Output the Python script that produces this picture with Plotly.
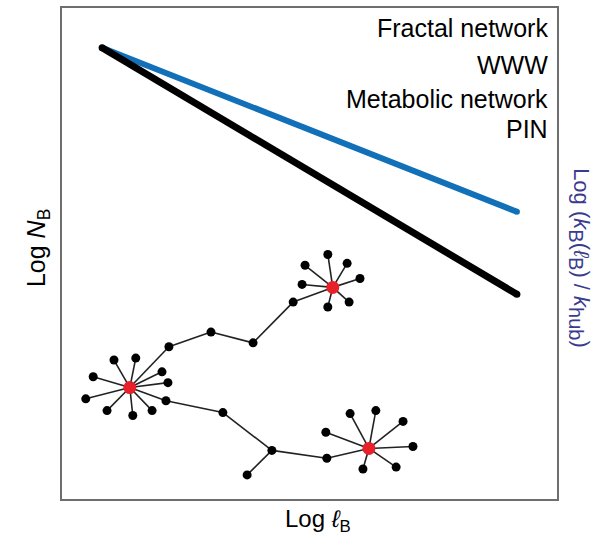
import plotly.graph_objects as go

# Scaling relations (log-log, arbitrary units)
line_x = [0.81, 9.19]
fractal_y = [9.19, 4.17]      # Log N_B for the fractal network
www_y = [9.19, 5.85]          # Log (k_B(l_B)/k_hub) for WWW / metabolic / PIN

# Sketch of a hub-and-spoke fractal network
node_x = [1.37, 1.05, 1.49, 0.63, 0.48, 0.91, 1.43, 1.82, 2.02, 2.14, 2.10, 2.16,
          3.01, 3.86, 4.67,
          5.47, 5.37, 4.91, 5.76, 6.02, 4.85, 5.80, 5.37,
          3.25, 4.24, 3.74, 5.35,
          6.20, 5.82, 6.34, 6.89, 5.33, 7.09, 6.08, 6.75]
node_y = [2.27, 2.83, 2.87, 2.49, 2.04, 1.80, 1.70, 1.80, 2.59, 2.37, 2.00, 3.10,
          3.40, 3.18, 4.01,
          4.31, 4.98, 4.76, 4.80, 4.49, 4.37, 4.01, 3.91,
          1.76, 0.99, 0.49, 0.83,
          1.03, 1.74, 1.80, 1.58, 1.36, 1.07, 0.61, 0.65]
hubs = [0, 15, 27]
edges = ([(0, i) for i in range(1, 12)]
         + [(11, 12), (12, 13), (13, 14), (14, 15)]
         + [(15, i) for i in range(16, 23)]
         + [(10, 23), (23, 24), (24, 25), (24, 26), (26, 27)]
         + [(27, i) for i in range(28, 35)])

legend_labels = ["Fractal network", "WWW", "Metabolic network", "PIN"]

ex, ey = [], []
for a, b in edges:
    ex += [node_x[a], node_x[b], None]
    ey += [node_y[a], node_y[b], None]

leaf_idx = [i for i in range(len(node_x)) if i not in hubs]

fig = go.Figure()
fig.add_trace(go.Scatter(x=ex, y=ey, mode="lines",
                         line=dict(color="#222222", width=1.6), hoverinfo="skip"))
fig.add_trace(go.Scatter(x=[node_x[i] for i in leaf_idx], y=[node_y[i] for i in leaf_idx],
                         mode="markers", marker=dict(color="black", size=9)))
fig.add_trace(go.Scatter(x=[node_x[i] for i in hubs], y=[node_y[i] for i in hubs],
                         mode="markers", marker=dict(color="#e8202a", size=13)))

fig.add_trace(go.Scatter(x=line_x, y=www_y, mode="lines+markers",
                         line=dict(color="#1170b8", width=6),
                         marker=dict(color="#1170b8", size=6)))
fig.add_trace(go.Scatter(x=line_x, y=fractal_y, mode="lines+markers",
                         line=dict(color="black", width=7),
                         marker=dict(color="black", size=7)))

label_font = "Liberation Sans, Arial, sans-serif"
label_y = [0.960, 0.884, 0.815, 0.754]
for txt, yy in zip(legend_labels, label_y):
    fig.add_annotation(text=txt, x=0.986, y=yy, xref="paper", yref="paper",
                       xanchor="right", yanchor="middle", showarrow=False,
                       font=dict(family=label_font, size=25, color="black"))

fig.add_annotation(text="Log <i>N</i><sub>B</sub>", x=-0.0485, y=0.511,
                   xref="paper", yref="paper", textangle=-90, showarrow=False,
                   xanchor="center", yanchor="middle",
                   font=dict(family=label_font, size=25, color="black"))
fig.add_annotation(text="Log <i>ℓ</i><sub>B</sub>", x=0.517, y=-0.0446,
                   xref="paper", yref="paper", showarrow=False,
                   xanchor="center", yanchor="middle",
                   font=dict(family=label_font, size=24, color="black"))
sub_style = "font-size:20px"
fig.add_annotation(text=("Log (<i>k</i><sub><span style='%s'>B</span></sub>"
                         "(<i>ℓ</i><sub><span style='%s'>B</span></sub>) / "
                         "<i>k</i><sub><span style='%s'>hub</span></sub>)")
                   % (sub_style, sub_style, sub_style),
                   x=1.044, y=0.491, xref="paper", yref="paper", textangle=90,
                   showarrow=False, xanchor="center", yanchor="middle",
                   font=dict(family="Liberation Sans, Arial, sans-serif", size=22,
                             color="#3b3b8f"))

axis_style = dict(range=[0, 10], showgrid=False, zeroline=False, showticklabels=False,
                  ticks="", showline=True, mirror=True, linecolor="#6e6e6e", linewidth=1.5)
fig.update_xaxes(**axis_style)
fig.update_yaxes(**axis_style)
fig.update_layout(width=599, height=541, margin=dict(l=62, r=42, t=6, b=42),
                  showlegend=False, plot_bgcolor="white", paper_bgcolor="white")

fig.write_html("out.html")
